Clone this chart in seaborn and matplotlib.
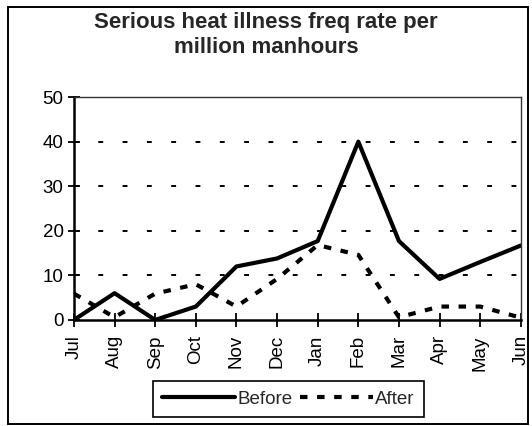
import matplotlib
matplotlib.use("Agg")
import matplotlib.pyplot as plt
from matplotlib.patches import Rectangle
import seaborn as sns
import pandas as pd

months = ["Jul", "Aug", "Sep", "Oct", "Nov", "Dec",
          "Jan", "Feb", "Mar", "Apr", "May", "Jun"]
before = [0, 6, 0, 3, 12, 13.8, 17.7, 40, 17.7, 9.2, 13, 16.7]
after = [5.9, 0.6, 5.9, 8, 3, 9.2, 16.8, 14.6, 0.6, 3, 3, 0.5]
series_names = ["Before", "After"]
y_ticks = [0, 10, 20, 30, 40, 50]

df = pd.DataFrame({
    "month": months * 2,
    "rate": before + after,
    "series": [series_names[0]] * len(months) + [series_names[1]] * len(months),
})

sns.set_theme(style="white")
plt.rcParams["font.family"] = ["Liberation Sans", "DejaVu Sans"]

LW = 3.0
AFTER_DASH = (1.8, 2.3)

fig = plt.figure(figsize=(5.32, 4.26), dpi=100)
ax = fig.add_axes([0.139, 0.249, 0.840, 0.523])

sns.lineplot(
    data=df, x="month", y="rate", style="series", color="black",
    dashes={"Before": "", "After": AFTER_DASH}, linewidth=LW,
    sort=False, ax=ax, legend=False,
)

for v in y_ticks[1:-1]:
    ax.axhline(v, color="black", linewidth=1.4, dashes=(2.5, 10), zorder=0)

ax.set_xlim(0, len(months) - 1)
ax.set_ylim(0, 50)
ax.set_yticks(y_ticks)
ax.set_xticks(range(len(months)))
ax.set_xticklabels(months, rotation=90, fontsize=13.5)
ax.tick_params(axis="y", labelsize=13.5, direction="inout", length=9,
               width=1.3, pad=3, colors="black", left=True)
ax.tick_params(axis="x", direction="inout", length=10, width=1.3, pad=6,
               colors="black", bottom=True)
ax.set_xlabel("")
ax.set_ylabel("")

for side in ["left", "bottom"]:
    ax.spines[side].set_color("black")
    ax.spines[side].set_linewidth(1.8)
for side in ["top", "right"]:
    ax.spines[side].set_visible(True)
    ax.spines[side].set_color("#333333")
    ax.spines[side].set_linewidth(1.0)

fig.text(0.5, 1 - 35 / 426, "Serious heat illness freq rate per\nmillion manhours",
         ha="center", va="center", fontsize=16, fontweight="bold",
         linespacing=1.3)

handles = [
    plt.Line2D([], [], color="black", linewidth=LW),
    plt.Line2D([], [], color="black", linewidth=LW, dashes=AFTER_DASH),
]
leg = fig.legend(handles, series_names, loc="center",
                 bbox_to_anchor=(0.542, 0.0635), ncol=2, fontsize=13.5,
                 frameon=True, fancybox=False, framealpha=1,
                 edgecolor="black", handlelength=3.9, handletextpad=0.1,
                 columnspacing=0.4, borderpad=0.5, borderaxespad=0)
leg.get_frame().set_linewidth(1.2)

fig.patches.append(Rectangle((8 / 532, 2 / 426), 520 / 532, 417 / 426,
                             transform=fig.transFigure, fill=False,
                             edgecolor="black", linewidth=1.4))

fig.savefig("out.png", dpi=100)
